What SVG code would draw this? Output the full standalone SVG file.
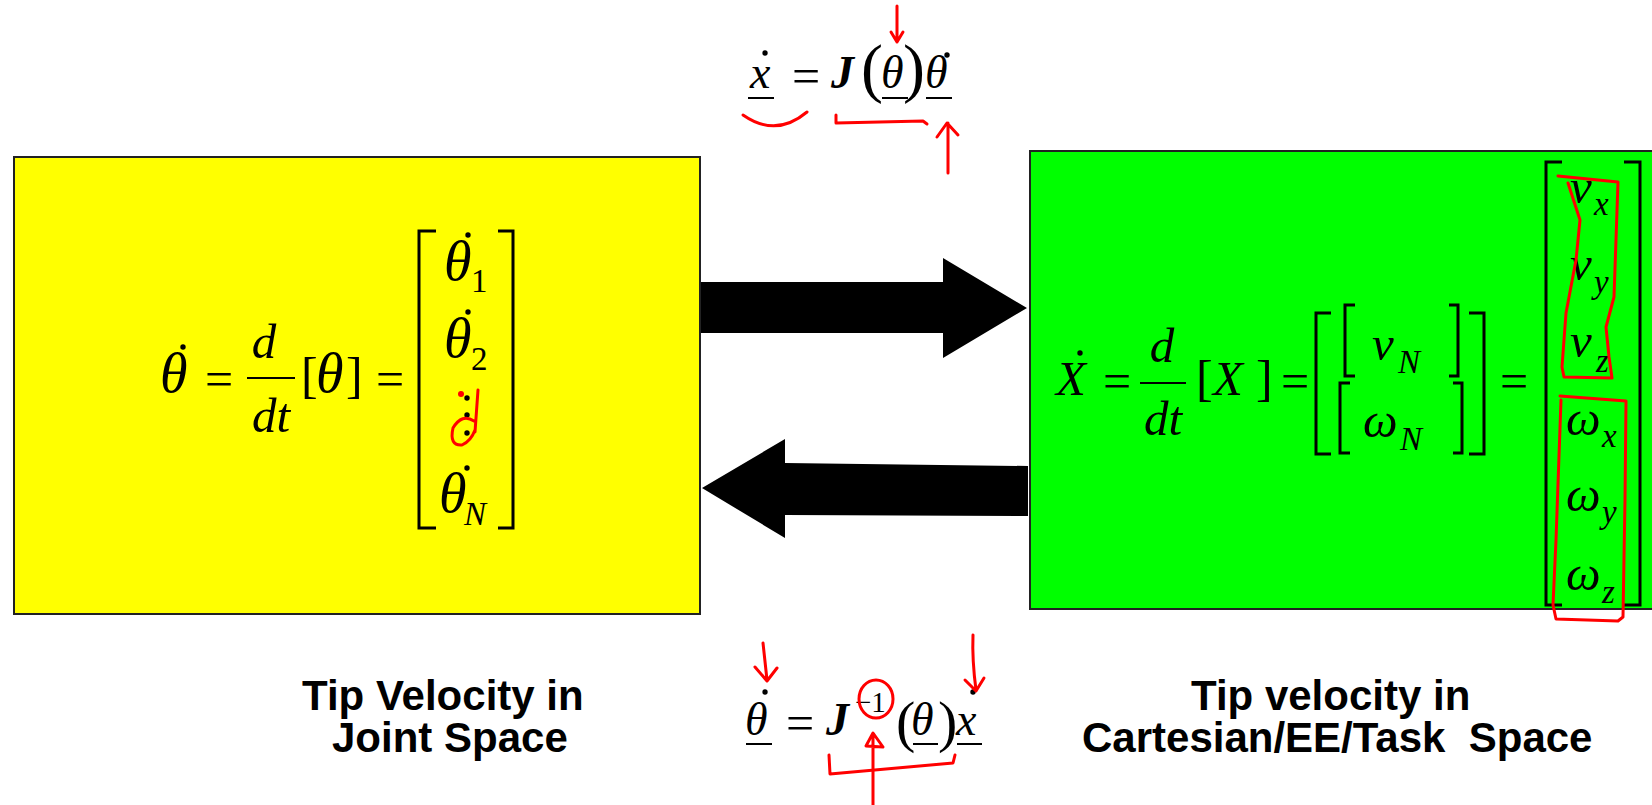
<svg xmlns="http://www.w3.org/2000/svg" width="1652" height="805" viewBox="0 0 1652 805">
<style>
.m{font-family:"Liberation Serif","Times New Roman",serif;font-style:italic;font-size:49px;fill:#000}
.g{font-family:"Liberation Serif","Times New Roman",serif;font-style:italic;font-size:56px;fill:#000}
.u{font-family:"Liberation Serif","Times New Roman",serif;font-style:normal;font-size:50px;fill:#000}
.s{font-family:"Liberation Serif","Times New Roman",serif;font-style:italic;font-size:33px;fill:#000}
.su{font-family:"Liberation Serif","Times New Roman",serif;font-style:normal;font-weight:normal;font-size:33px;fill:#000}
.t{font-family:"Liberation Serif","Times New Roman",serif;font-style:italic;font-size:46px;fill:#000}
.b{font-family:"Liberation Serif","Times New Roman",serif;font-style:italic;font-weight:bold;font-size:46px;fill:#000}
.lbl{font-family:"Liberation Sans",Arial,sans-serif;font-weight:bold;font-size:42px;fill:#000}
.br{fill:none;stroke:#000;stroke-width:3}
.ln{stroke:#000;stroke-width:2}
.red{fill:none;stroke:#ff0000;stroke-width:3;stroke-linecap:round;stroke-linejoin:round}
</style>

<g id="joint-space">
  <rect x="14" y="157" width="686" height="457" fill="#ffff00" stroke="#222" stroke-width="2"/>
  <text class="g" x="160" y="392">θ</text>
  <circle cx="183" cy="347" r="2.7"/>
  <text class="u" x="219" y="396" text-anchor="middle">=</text>
  <text class="m" x="264" y="358" text-anchor="middle">d</text>
  <line class="ln" x1="247" y1="378" x2="295" y2="378"/>
  <text class="m" x="271" y="432" text-anchor="middle">dt</text>
  <text class="u" x="301" y="392">[</text>
  <text class="g" x="316" y="392">θ</text>
  <text class="u" x="346" y="392">]</text>
  <text class="u" x="390" y="396" text-anchor="middle">=</text>
  <polyline class="br" points="436,231 419,231 419,528 436,528"/>
  <polyline class="br" points="498,231 513,231 513,528 498,528"/>
  <text class="g" x="444" y="280">θ</text><circle cx="468" cy="235" r="2.7"/>
  <text class="su" x="471" y="292">1</text>
  <text class="g" x="444" y="357">θ</text><circle cx="468" cy="312" r="2.7"/>
  <text class="su" x="471" y="370">2</text>
  <circle cx="467" cy="398" r="2.7"/><circle cx="467" cy="415" r="2.7"/><circle cx="467" cy="433" r="2.7"/>
  <text class="g" x="439" y="512">θ</text><circle cx="467" cy="468" r="2.7"/>
  <text class="s" x="464" y="525">N</text>
</g>

<g id="task-space">
  <rect x="1030" y="151" width="640" height="458" fill="#00ff00" stroke="#222" stroke-width="2"/>
  <text class="m" x="1056" y="395">X</text><circle cx="1080" cy="353" r="2.7"/>
  <text class="u" x="1117" y="398" text-anchor="middle">=</text>
  <text class="m" x="1162" y="362" text-anchor="middle">d</text>
  <line class="ln" x1="1140" y1="383" x2="1186" y2="383"/>
  <text class="m" x="1163" y="435" text-anchor="middle">dt</text>
  <text class="u" x="1196" y="395">[</text>
  <text class="m" x="1213" y="395">X</text>
  <text class="u" x="1256" y="395">]</text>
  <text class="u" x="1295" y="398" text-anchor="middle">=</text>
  <polyline class="br" points="1331,313 1316,313 1316,454 1331,454"/>
  <polyline class="br" points="1469,313 1484,313 1484,454 1469,454"/>
  <polyline class="br" points="1355,305 1345,305 1345,376 1355,376"/>
  <polyline class="br" points="1449,305 1458,305 1458,376 1449,376"/>
  <polyline class="br" points="1350,383 1340,383 1340,453 1350,453"/>
  <polyline class="br" points="1453,383 1462,383 1462,453 1453,453"/>
  <text class="m" x="1372" y="360">v</text><text class="s" x="1398" y="373">N</text>
  <text class="m" x="1363" y="437">ω</text><text class="s" x="1400" y="450">N</text>
  <text class="u" x="1514" y="398" text-anchor="middle">=</text>
  <polyline class="br" points="1562,162 1546,162 1546,605 1562,605"/>
  <polyline class="br" points="1624,162 1640,162 1640,605 1624,605"/>
  <text class="m" x="1570" y="203">v</text><text class="s" x="1594" y="215">x</text>
  <text class="m" x="1570" y="280">v</text><text class="s" x="1594" y="293">y</text>
  <text class="m" x="1570" y="357">v</text><text class="s" x="1596" y="372">z</text>
  <text class="m" x="1566" y="435">ω</text><text class="s" x="1602" y="447">x</text>
  <text class="m" x="1566" y="511">ω</text><text class="s" x="1602" y="523">y</text>
  <text class="m" x="1566" y="590">ω</text><text class="s" x="1602" y="603">z</text>
</g>

<g id="connectors">
  <polygon points="701,282 943,282 943,258 1027,308 943,358 943,333 701,333" fill="#000"/>
  <polygon points="1028,466 785,463 785,439 702,488 785,538 785,515 1028,516" fill="#000"/>
</g>

<g id="forward-label">
  <text class="t" x="750" y="88">x</text><circle cx="765" cy="53" r="2.7"/>
  <line class="ln" x1="748" y1="98" x2="774" y2="98"/>
  <text class="u" x="806" y="93" text-anchor="middle">=</text>
  <text class="b" x="831" y="88">J</text>
  <text class="u" x="861" y="90" style="font-size:66px">(</text>
  <text class="t" x="881" y="88">θ</text>
  <line class="ln" x1="882" y1="98" x2="908" y2="98"/>
  <text class="u" x="903" y="90" style="font-size:66px">)</text>
  <text class="t" x="925" y="88">θ</text><circle cx="947" cy="55" r="2.7"/>
  <line class="ln" x1="926" y1="98" x2="952" y2="98"/>
</g>

<g id="inverse-label">
  <text class="t" x="745" y="735">θ</text><circle cx="765" cy="692" r="2.7"/>
  <line class="ln" x1="746" y1="744" x2="772" y2="744"/>
  <text class="u" x="800" y="740" text-anchor="middle">=</text>
  <text class="b" x="826" y="735">J<tspan class="su" dx="6" dy="-23" style="font-size:29px">−1</tspan></text>
  <text class="u" x="896" y="741" style="font-size:58px">(</text>
  <text class="t" x="911" y="735">θ</text>
  <line class="ln" x1="913" y1="744" x2="938" y2="744"/>
  <text class="u" x="938" y="741" style="font-size:58px">)</text>
  <text class="t" x="956" y="735">x</text><circle cx="973" cy="692" r="2.7"/>
  <line class="ln" x1="957" y1="744" x2="982" y2="744"/>
</g>

<g id="captions">
  <text class="lbl" x="302" y="710">Tip Velocity in<tspan x="332" y="752">Joint Space</tspan></text>
  <text class="lbl" x="1191" y="710" xml:space="preserve">Tip velocity in<tspan x="1082" y="752">Cartesian/EE/Task  Space</tspan></text>
</g>

<g id="annotations">
  <path class="red" d="M897,6 L897,42 M891,32 L897,42 L903,32"/>
  <path class="red" d="M743,115 Q776,138 807,112"/>
  <path class="red" d="M836,115 L836,123 L923,121 L927,124"/>
  <path class="red" d="M948,173 L948,123 M937,137 L947,123 L958,135"/>
  <circle cx="461" cy="394" r="3" fill="#ff0000"/>
  <path class="red" d="M478,390 L475,432 M474,421 Q462,413 453,428 Q449,446 462,445 Q471,441 475,430"/>
  <path class="red" d="M1558,176 L1618,182 L1614,297 L1606,327 L1609,357 L1612,378 L1564,377 L1562,367 L1566,313 L1576,260 L1580,220 L1568,183"/>
  <path class="red" d="M1560,396 L1626,401 L1625,500 L1623,617 L1618,621 L1556,619 L1553,605 L1556,540 L1561,400"/>
  <path class="red" d="M763,643 L767,680 M755,667 L767,681 L777,668"/>
  <path class="red" d="M973,635 Q972,660 976,690 M965,680 L976,691 L984,678"/>
  <ellipse class="red" cx="876" cy="699" rx="17" ry="19"/>
  <path class="red" d="M873,805 L873,735 M866,746 L873,733 L883,747 Z"/>
  <path class="red" d="M829,755 L830,774 L953,763 L955,755"/>
</g>
</svg>
